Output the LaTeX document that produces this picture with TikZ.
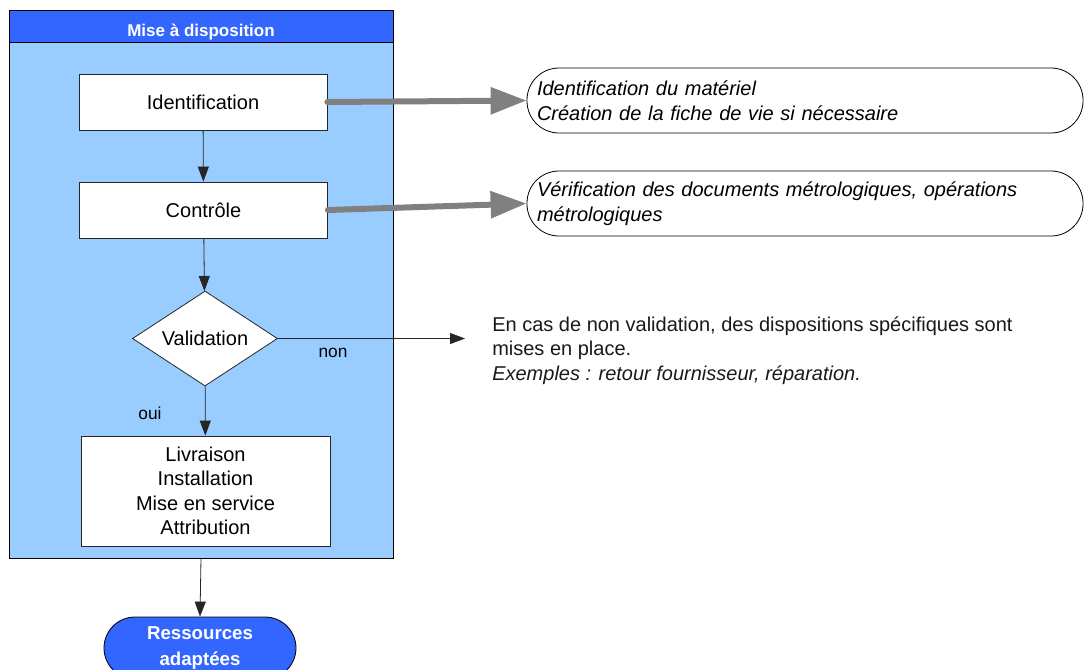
\documentclass[tikz,border=0pt]{standalone}
\usepackage{fontspec}
\setmainfont{Liberation Sans}
\usetikzlibrary{arrows.meta,shapes.geometric}
\newdimen\pxu \pxu=0.75pt
\definecolor{poolblue}{HTML}{99CCFF}
\definecolor{headblue}{HTML}{3366FF}
\definecolor{linkgrey}{HTML}{808080}
\tikzset{
  txt/.style={font=\fontsize{15}{18.4}\selectfont},
  small/.style={font=\fontsize{13}{15}\selectfont},
  procbox/.style={txt, draw=black!85, fill=white, rectangle, inner sep=0pt, align=center, line width=0.6pt},
  annbox/.style={txt, draw=black, rectangle, rounded corners=24pt, inner sep=0pt, align=left,
    minimum width=556\pxu, minimum height=65\pxu, text width=536\pxu, line width=0.6pt},
  flow/.style={draw=black!85, line width=0.6pt, -{Triangle[length=11.25pt, width=8.25pt]}},
  biglink/.style={draw=linkgrey, line width=4.5pt, line cap=round, -{Triangle[length=27pt, width=19.5pt]}},
}
\begin{document}
\begin{tikzpicture}[x=0.75pt, y=-0.75pt]
\useasboundingbox (0,0) rectangle (1084,669);

% swimlane
\node[draw=black, fill=poolblue, rectangle, inner sep=0pt, minimum width=384\pxu, minimum height=548\pxu, line width=0.6pt] (pool) at (201,284) {};
\node[draw=black, fill=headblue, rectangle, inner sep=0pt, minimum width=384\pxu, minimum height=32\pxu, line width=0.6pt,
  text=white, text height=15pt, text depth=0pt, font=\fontsize{12.75}{15}\selectfont\bfseries] (head) at (201,26) {Mise à disposition};

% process steps
\node[procbox, minimum width=248\pxu, minimum height=56\pxu] (ident) at (203,102) {Identification};
\node[procbox, minimum width=248\pxu, minimum height=56\pxu] (ctrl) at (203.5,210) {Contrôle};
\node[txt, diamond, draw=black!85, fill=white, inner sep=0pt, aspect=1.5, minimum width=145\pxu, minimum height=95\pxu, line width=0.6pt] (val) at (205,338.5) {Validation};
\node[procbox, minimum width=249\pxu, minimum height=110\pxu] (deliv) at (205.5,491) {Livraison\\Installation\\Mise en service\\Attribution};

% outcome
\node[draw=black, fill=headblue, rectangle, rounded corners=23.25pt, inner sep=0pt, minimum width=192\pxu, minimum height=62\pxu,
  text=white, align=center, font=\fontsize{14}{20}\selectfont\bfseries, line width=0.6pt] (res) at (200,648) {Ressources\\adaptées};

% annotations
\node[annbox] (ann1) at (805,100.5) {\itshape Identification du matériel\\\itshape Création de la fiche de vie si nécessaire};
\node[annbox] (ann2) at (805,203.5) {\itshape Vérification des documents métrologiques, opérations\\\itshape métrologiques};
\node[txt, anchor=north west, inner sep=0pt, align=left, text=black!90] (note) at (492,316)
  {En cas de non validation, des dispositions spécifiques sont\\mises en place.\\\itshape Exemples : retour fournisseur, réparation.};

% labels
\node[small, inner sep=0pt] (lnon) at (333,353) {non};
\node[small, inner sep=0pt] (loui) at (150,413) {oui};

% connectors
\coordinate (nonend) at (465,338.5);
\draw[flow] (ident) -- (ctrl);
\draw[flow] (ctrl) -- (val);
\draw[flow] (val) -- (deliv);
\draw[flow] (val.east) -- (nonend);
\draw[flow] (pool.south) -- (res.north);
\draw[biglink] (ident.east) -- (ann1.west);
\draw[biglink] (ctrl.east) -- (ann2.west);
\end{tikzpicture}
\end{document}
